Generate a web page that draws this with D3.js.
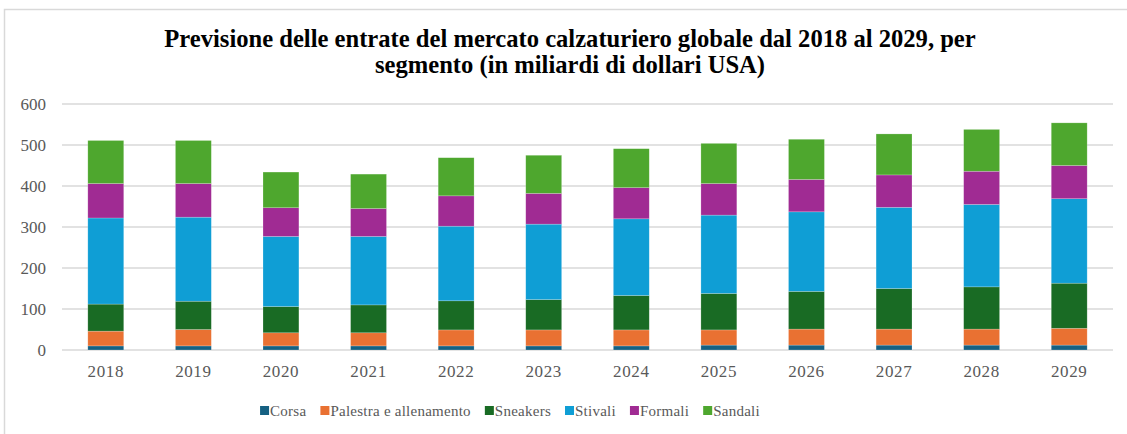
<!DOCTYPE html>
<html><head><meta charset="utf-8">
<script src="https://cdn.jsdelivr.net/npm/d3@7"></script>
<style>body{margin:0;background:#fff}svg{display:block}</style>
</head><body>
<svg id="chart" width="1127" height="434"></svg>
<script>
const years = ["2018","2019","2020","2021","2022","2023","2024","2025","2026","2027","2028","2029"];
const seriesNames = ["Corsa","Palestra e allenamento","Sneakers","Stivali","Formali","Sandali"];
const corsa    = [10,10,10,10,10,10,10,12,12,12,12,12];
const palestra = [36,40,32,32,39,39,39,37,39,39,39,41];
const sneakers = [66,69,64,68,71,74,84,89,92,99,103,110];
const stivali  = [210,205,171,167,182,184,187,191,194,198,201,206];
const formali  = [84,82,70,68,74,75,76,77,79,79,81,81];
const sandali  = [105,105,87,84,93,93,95,98,98,100,102,104];
const yTicks = [0,100,200,300,400,500,600];
const colors = ["#156082","#E97132","#196B24","#0F9ED5","#A02B93","#4EA72E"];
const titleLines = ["Previsione delle entrate del mercato calzaturiero globale dal 2018 al 2029, per","segmento (in miliardi di dollari USA)"];

const FONT = "'Liberation Serif', 'Times New Roman', serif";
const svg = d3.select("#chart");
const W = 1127, H = 434;
const m = {left:62, right:14, top:104, bottom:84};

svg.append("rect").attr("x",4.5).attr("y",9.5).attr("width",1140).attr("height",450)
  .attr("fill","#fff").attr("stroke","#d9d9d9").attr("stroke-width",1.5);

const allSeries = [corsa,palestra,sneakers,stivali,formali,sandali];
const table = years.map((y,i)=>{const o={year:y}; seriesNames.forEach((s,j)=>o[s]=allSeries[j][i]); return o;});
const stack = d3.stack().keys(seriesNames)(table);

const x = d3.scaleBand().domain(years).range([m.left, W-m.right]).paddingInner(0.59).paddingOuter(0.295);
const y = d3.scaleLinear().domain([0,600]).range([H-m.bottom, m.top]);

// grid
svg.append("g").selectAll("line").data(yTicks).join("line")
  .attr("x1",m.left).attr("x2",W-m.right)
  .attr("y1",d=>y(d)).attr("y2",d=>y(d))
  .attr("stroke","#d9d9d9").attr("stroke-width",1.3);

// y labels
const yAxis = svg.append("g").attr("transform",`translate(${m.left-16},0)`)
  .call(d3.axisLeft(y).tickValues(yTicks).tickSize(0).tickPadding(0));
yAxis.attr("font-family",null).attr("font-size",null);
yAxis.select(".domain").remove();
yAxis.selectAll("text").style("font-family",FONT).style("font-size","17px").attr("fill","#595959");

// bars
svg.append("g").selectAll("g").data(stack).join("g")
  .attr("fill",(d,i)=>colors[i])
  .selectAll("rect").data(d=>d).join("rect")
  .attr("x",d=>x(d.data.year)).attr("width",x.bandwidth())
  .attr("y",d=>y(d[1])).attr("height",d=>y(d[0])-y(d[1]))
  .attr("stroke","rgba(255,255,255,0.35)").attr("stroke-width",0.6);

// x labels
const xAxis = svg.append("g").attr("transform",`translate(0,${H-m.bottom})`)
  .call(d3.axisBottom(x).tickSize(0).tickPadding(15));
xAxis.attr("font-family",null).attr("font-size",null);
xAxis.select(".domain").remove();
xAxis.selectAll("text").style("font-family",FONT).style("font-size","17px").attr("fill","#595959").style("letter-spacing","0.6px");

// title
svg.append("text").attr("x",570).attr("y",47).attr("text-anchor","middle")
  .style("font-family",FONT).style("font-weight","bold").style("font-size","24.6px").attr("fill","#000")
  .selectAll("tspan").data(titleLines).join("tspan")
  .attr("x",570).attr("dy",(d,i)=>i?26:0).text(d=>d);

// legend
const lg = svg.append("g");
const items = lg.selectAll("g").data(seriesNames).join("g");
items.append("rect").attr("width",9).attr("height",9).attr("y",-10).attr("fill",(d,i)=>colors[i]);
items.append("text").attr("x",10).attr("y",0)
  .style("font-family",FONT).style("font-size","15px").attr("fill","#595959")
  .style("letter-spacing","0.25px").text(d=>d);
let cx = 0;
items.each(function(){ const w = this.getBBox().width; d3.select(this).attr("transform",`translate(${cx},0)`); cx += w + 14; });
const total = cx - 14;
lg.attr("transform",`translate(${510 - total/2},416)`);
</script>
</body></html>
